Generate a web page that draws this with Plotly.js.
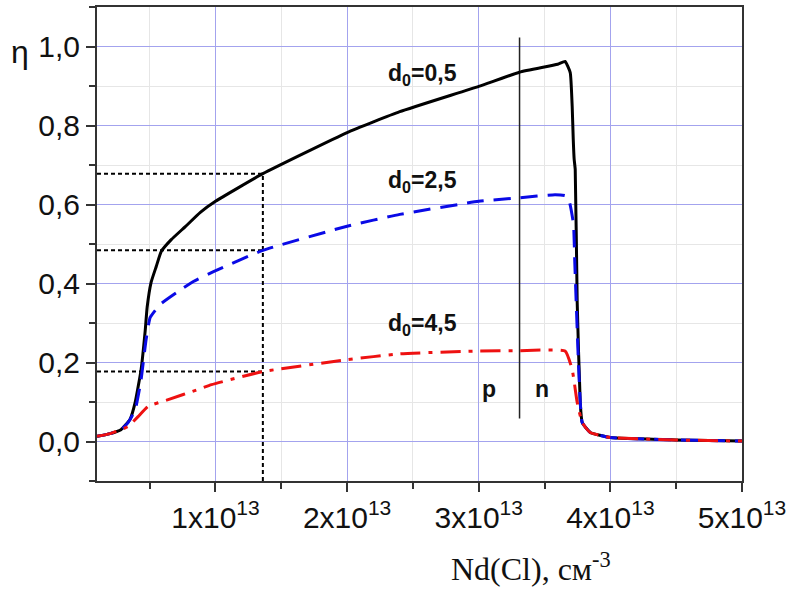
<!DOCTYPE html>
<html>
<head>
<meta charset="utf-8">
<script src="https://cdn.plot.ly/plotly-3.0.1.min.js"></script>
<style>html,body{margin:0;padding:0;background:#fff;}#chart{width:787px;height:592px;}</style>
</head>
<body>
<div id="chart"></div>
<script>
// x values in units of 1e13 cm^-3
const black_x = [0.1, 0.2, 0.282, 0.351, 0.39, 0.435, 0.466, 0.481, 0.511, 0.55, 0.588, 0.664, 0.771, 0.885, 1.0, 1.36, 2.0, 2.4, 3.0, 3.31, 3.6, 3.656, 3.695, 3.71, 3.718, 3.725, 3.733, 3.748, 3.771, 3.786, 3.847, 4.0, 4.5, 5.0];
const black_y = [0.013, 0.02, 0.03, 0.056, 0.099, 0.182, 0.28, 0.34, 0.403, 0.443, 0.481, 0.511, 0.544, 0.58, 0.608, 0.678, 0.782, 0.835, 0.899, 0.935, 0.955, 0.962, 0.934, 0.848, 0.765, 0.714, 0.689, 0.352, 0.099, 0.048, 0.023, 0.01, 0.004, 0.001];

const blue_x = [0.1, 0.2, 0.282, 0.336, 0.39, 0.435, 0.473, 0.504, 0.58, 0.718, 0.832, 0.985, 1.36, 2.0, 2.4, 3.0, 3.31, 3.58, 3.66, 3.69, 3.72, 3.73, 3.76, 3.786, 3.847, 4.0, 4.5, 5.0];
const blue_y = [0.013, 0.02, 0.03, 0.048, 0.08, 0.157, 0.258, 0.314, 0.347, 0.38, 0.405, 0.43, 0.484, 0.545, 0.575, 0.608, 0.617, 0.625, 0.622, 0.605, 0.55, 0.45, 0.18, 0.048, 0.023, 0.01, 0.004, 0.001];

const red_x = [0.1, 0.2, 0.282, 0.336, 0.412, 0.489, 0.641, 0.87, 0.97, 1.36, 2.0, 2.4, 3.0, 3.31, 3.656, 3.71, 3.748, 3.786, 3.847, 4.0, 4.5, 5.0];
const red_y = [0.013, 0.02, 0.03, 0.038, 0.063, 0.089, 0.106, 0.132, 0.144, 0.177, 0.207, 0.222, 0.229, 0.23, 0.229, 0.182, 0.099, 0.048, 0.023, 0.01, 0.004, 0.001];

// p-n boundary line
const pn_x = [3.31, 3.31];
const pn_y = [0.058, 1.023];

// dotted guide lines
const guide_x = [1.36, 1.36, null, 0.1, 1.36, null, 0.1, 1.36, null, 0.1, 1.36];
const guide_y = [-0.1, 0.678, null, 0.678, 0.678, null, 0.484, 0.484, null, 0.177, 0.177];

const x_tickvals = [1, 2, 3, 4, 5];
const x_ticktext = ['1x10<sup>13</sup>', '2x10<sup>13</sup>', '3x10<sup>13</sup>', '4x10<sup>13</sup>', '5x10<sup>13</sup>'];
const x_minorvals = [0.5, 1.5, 2.5, 3.5, 4.5];

const labels = ['d<sub>0</sub>=0,5', 'd<sub>0</sub>=2,5', 'd<sub>0</sub>=4,5', 'p', 'n'];
const label_x = [2.57, 2.57, 2.57, 3.08, 3.48];
const label_y = [0.929, 0.658, 0.296, 0.132, 0.132];

const sm = 0.4;
const traces = [
  {x: guide_x, y: guide_y, mode: 'lines', line: {color: '#000', width: 2, dash: '4px,3px'}, hoverinfo: 'skip', connectgaps: false},
  {x: pn_x, y: pn_y, mode: 'lines', line: {color: '#222', width: 1.5}, hoverinfo: 'skip'},
  {x: black_x, y: black_y, mode: 'lines', line: {color: '#000', width: 3, shape: 'spline', smoothing: sm}},
  {x: blue_x, y: blue_y, mode: 'lines', line: {color: '#0a0ae6', width: 3, dash: '17px,10px', shape: 'spline', smoothing: sm}},
  {x: red_x, y: red_y, mode: 'lines', line: {color: '#ee1111', width: 3, dash: '20px,8px,4px,8px', shape: 'spline', smoothing: sm}}
];

const gridMajor = '#a3a3ee';
const gridMinor = '#e6e6e6';
const tickFont = {family: 'Arial, "Liberation Sans", sans-serif', size: 30, color: '#111'};

const annotations = labels.map((t, i) => ({
  x: label_x[i], y: label_y[i], xref: 'x', yref: 'y', text: t, showarrow: false,
  font: {family: 'Arial, "Liberation Sans", sans-serif', size: 23, color: '#111', weight: 'bold'},
  xanchor: 'center', yanchor: 'middle'
}));
annotations.push({x: -0.12, y: 0.905, xref: 'paper', yref: 'paper', text: 'η', showarrow: false,
  font: {family: 'Arial, "Liberation Sans", sans-serif', size: 32, color: '#111'}, xanchor: 'center', yanchor: 'middle'});
annotations.push({x: 0.673, y: -0.181, xref: 'paper', yref: 'paper', text: 'Nd(Cl), см<sup>-3</sup>', showarrow: false,
  font: {family: '"Liberation Serif", "Times New Roman", serif', size: 32, color: '#111'}, xanchor: 'center', yanchor: 'middle'});

const layout = {
  width: 787, height: 592,
  margin: {l: 97, r: 45, t: 7, b: 111},
  paper_bgcolor: '#fff', plot_bgcolor: '#fff',
  showlegend: false,
  separators: ', ',
  xaxis: {
    range: [0.1, 5.0], tickmode: 'array', tickvals: x_tickvals, ticktext: x_ticktext,
    showline: true, mirror: true, linecolor: '#333', linewidth: 2,
    ticks: 'outside', ticklen: 9, tickwidth: 2, tickcolor: '#333',
    showgrid: true, gridcolor: gridMajor, gridwidth: 1, zeroline: false,
    tickfont: tickFont,
    minor: {tickmode: 'array', tickvals: x_minorvals, ticks: 'outside', ticklen: 6, tickwidth: 2, tickcolor: '#333', showgrid: true, gridcolor: gridMinor, gridwidth: 1}
  },
  yaxis: {
    range: [-0.1, 1.1], tickmode: 'linear', tick0: 0, dtick: 0.2, tickformat: '.1f',
    showline: true, mirror: true, linecolor: '#333', linewidth: 2,
    ticks: 'outside', ticklen: 9, tickwidth: 2, tickcolor: '#333',
    showgrid: true, gridcolor: gridMajor, gridwidth: 1, zeroline: false,
    tickfont: tickFont,
    minor: {tickmode: 'linear', tick0: 0, dtick: 0.1, ticks: 'outside', ticklen: 6, tickwidth: 2, tickcolor: '#333', showgrid: true, gridcolor: gridMinor, gridwidth: 1}
  },
  annotations: annotations
};

Plotly.newPlot('chart', traces, layout, {displayModeBar: false, staticPlot: true});
</script>
</body>
</html>
